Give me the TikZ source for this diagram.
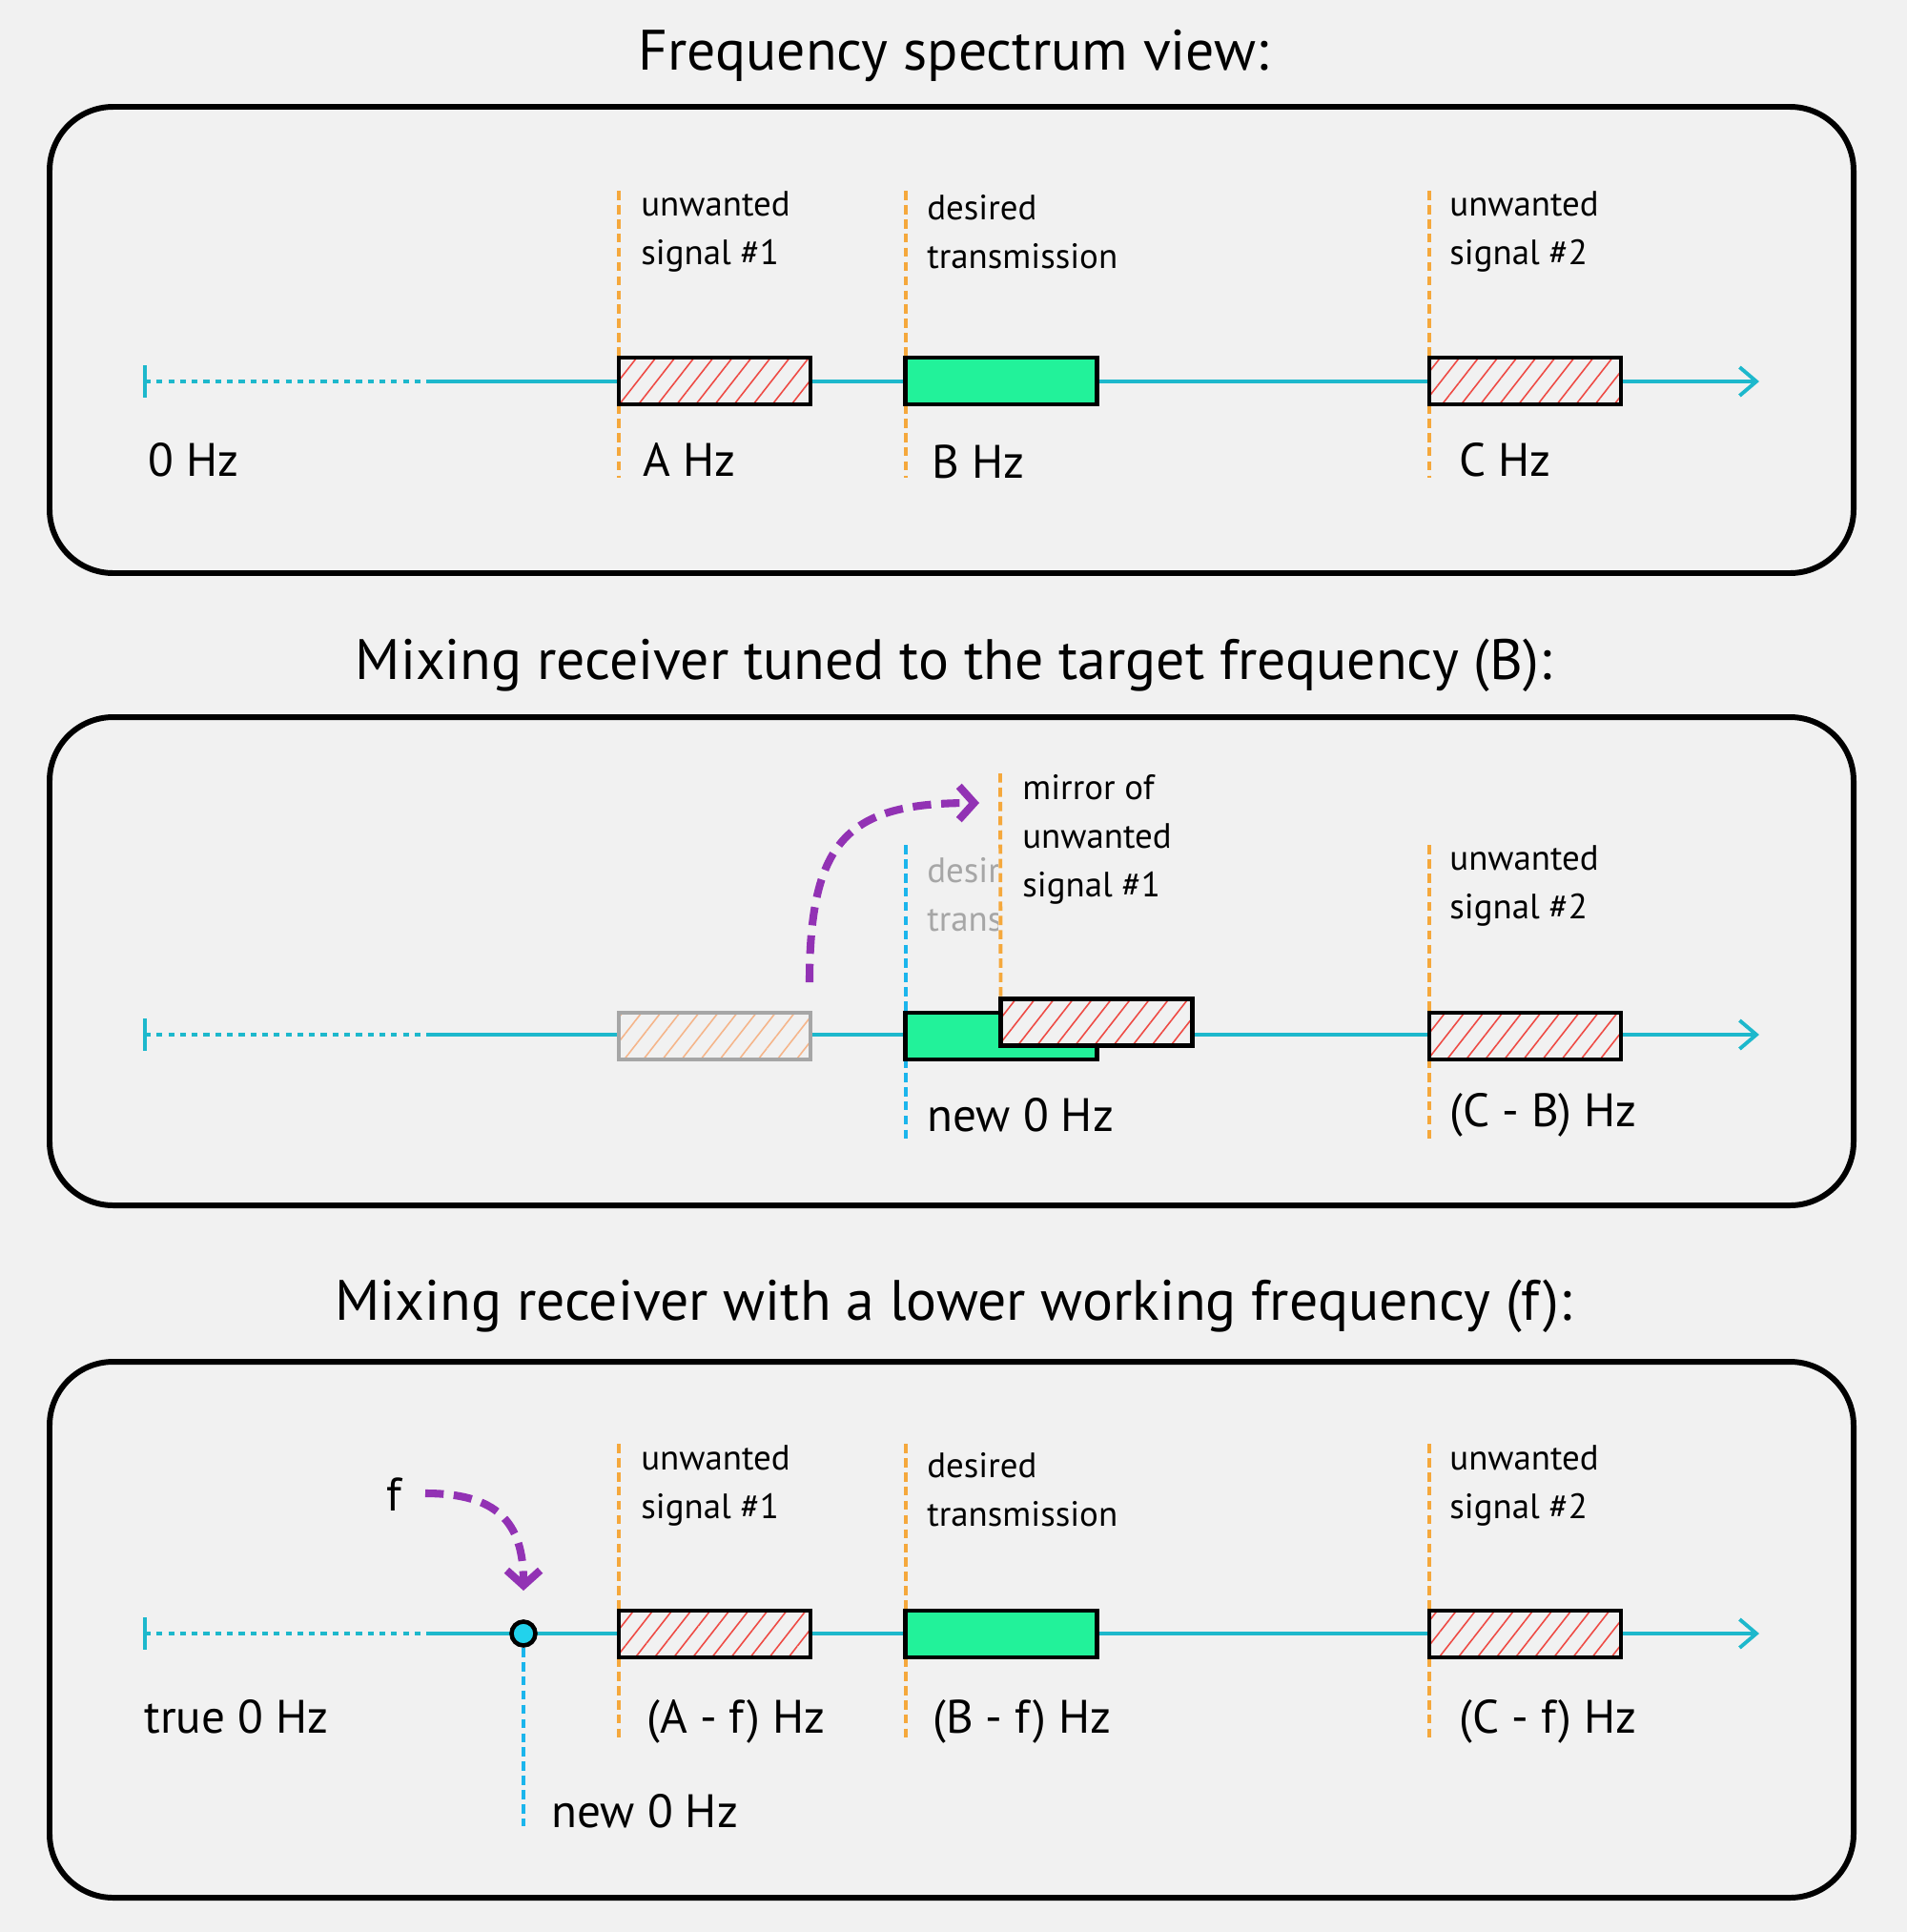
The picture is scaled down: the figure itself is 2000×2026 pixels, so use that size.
\documentclass[tikz,border=0pt]{standalone}
\usepackage{fontspec}
\setmainfont{PT Sans}
\usetikzlibrary{arrows.meta,patterns.meta}
\definecolor{bg}{HTML}{F1F1F1}
\definecolor{axis}{HTML}{1DB8CC}
\definecolor{grn}{HTML}{22F29A}
\definecolor{org}{HTML}{F5A83C}
\definecolor{hred}{HTML}{EE4A44}
\definecolor{purp}{HTML}{9232B4}
\definecolor{nblue}{HTML}{1BB5EC}
\definecolor{fadeorg}{HTML}{F5B58A}
\definecolor{dotfill}{HTML}{22D2EC}
\begin{document}
\begin{tikzpicture}[x=0.02cm,y=-0.02cm,
 frame/.style={draw=black,line width=3.4pt,rounded corners=38pt},
 axisline/.style={draw=axis,line width=2.2pt},
 axisarrow/.style={draw=axis,line width=2.2pt,-{Straight Barb[length=10pt,width=17pt]}},
 dotaxis/.style={draw=axis,line width=2.2pt,dash pattern=on 3.5pt off 3.5pt},
 guide/.style={draw=org,line width=2.2pt,dash pattern=on 5.5pt off 3pt},
 zeroguide/.style={draw=nblue,line width=2.2pt,dash pattern=on 5.5pt off 3pt},
 sigbox/.style={draw=black,line width=2.8pt,minimum width=4.02cm,minimum height=0.98cm,inner sep=0pt,outer sep=0pt},
 unwantedbox/.style={sigbox,preaction={fill=bg},pattern={Lines[angle=52,distance=9pt,line width=0.9pt]},pattern color=hred},
 fadedbox/.style={sigbox,draw=black!35,preaction={fill=bg},pattern={Lines[angle=52,distance=9pt,line width=0.9pt]},pattern color=fadeorg},
 desiredbox/.style={sigbox,fill=grn},
 title/.style={font=\fontsize{34}{40}\selectfont,inner sep=0pt},
 lbl/.style={font=\fontsize{21}{29}\selectfont,align=left,anchor=west,inner sep=0pt},
 hz/.style={font=\fontsize{28}{34}\selectfont,anchor=west,inner sep=0pt},
 mixarrow/.style={draw=purp,line width=4.6pt,dash pattern=on 11pt off 6pt,-{Straight Barb[length=9pt,width=20pt]}}
]
\fill[bg] (0,0) rectangle (2000,2026);
\useasboundingbox (0,0) rectangle (2000,2026);

% ---------------- titles
\node[title] (t1) at (1000,58) {Frequency spectrum view:};
\node[title] (t2) at (1000,698) {Mixing receiver tuned to the target frequency (B):};
\node[title] (t3) at (1000,1370) {Mixing receiver with a lower working frequency (f):};

% ---------------- frames
\draw[frame] (52,112) rectangle (1944,601);
\draw[frame] (52,752) rectangle (1944,1264);
\draw[frame] (52,1428) rectangle (1944,1990);

% ================= panel 1
\coordinate (a1s) at (152,400);
\coordinate (a1m) at (452,400);
\coordinate (a1e) at (1845,400);
\draw[axisline] (152,383) -- (152,417);
\draw[dotaxis] (a1s) -- (a1m);
\draw[axisarrow] (a1m) -- (a1e);
\draw[guide] (649,200) -- (649,501);
\draw[guide] (950,200) -- (950,501);
\draw[guide] (1499,200) -- (1499,501);
\node[unwantedbox] (p1a) at (749.5,399.5) {};
\node[desiredbox] (p1b) at (1050,399.5) {};
\node[unwantedbox] (p1c) at (1599.5,399.5) {};
\node[lbl] (p1la) at (672,243) {unwanted\\signal \#1};
\node[lbl] (p1lb) at (972,243) {desired\\transmission};
\node[lbl] (p1lc) at (1520,243) {unwanted\\signal \#2};
\node[hz] (p1h0) at (155,482) {0 Hz};
\node[hz] (p1ha) at (674,482) {A Hz};
\node[hz] (p1hb) at (977,484) {B Hz};
\node[hz] (p1hc) at (1530,482) {C Hz};

% ================= panel 2
\coordinate (a2s) at (152,1085);
\coordinate (a2m) at (452,1085);
\coordinate (a2e) at (1845,1085);
\draw[axisline] (152,1068) -- (152,1102);
\draw[dotaxis] (a2s) -- (a2m);
\draw[axisarrow] (a2m) -- (a2e);
\draw[zeroguide] (950,886) -- (950,1195);
\draw[guide] (1499,886) -- (1499,1195);
\begin{scope}
\clip (940,860) rectangle (1046,1000);
\node[lbl,text=black!35] (p2fade) at (972,938) {desired\\transmission};
\end{scope}
\node[fadedbox] (p2a) at (749.5,1086.5) {};
\node[desiredbox] (p2b) at (1050,1086.5) {};
\node[unwantedbox] (p2m) at (1150,1072) {};
\draw[guide] (1049,811) -- (p2m.north west);
\node[unwantedbox] (p2c) at (1599.5,1086.5) {};
\node[lbl] (p2lm) at (1072,880) {mirror of\\unwanted\\signal \#1};
\node[lbl] (p2lc) at (1520,929) {unwanted\\signal \#2};
\node[hz] (p2h0) at (972,1169) {new 0 Hz};
\node[hz] (p2hc) at (1520,1169) {(C - B) Hz};
\coordinate (m2s) at (849,1030);
\coordinate (m2e) at (1027,842);
\draw[mixarrow] (m2s) .. controls (849,880) and (890,842) .. (m2e);

% ================= panel 3
\coordinate (a3s) at (152,1713);
\coordinate (a3m) at (452,1713);
\coordinate (a3e) at (1845,1713);
\draw[axisline] (152,1696) -- (152,1730);
\draw[dotaxis] (a3s) -- (a3m);
\draw[axisarrow] (a3m) -- (a3e);
\draw[guide] (649,1514) -- (649,1824);
\draw[guide] (950,1514) -- (950,1824);
\draw[guide] (1499,1514) -- (1499,1824);
\coordinate (nzb) at (549,1915);
\draw[zeroguide] (549,1713) -- (nzb);
\node[circle,draw=black,line width=2.6pt,fill=dotfill,minimum size=0.5cm,inner sep=0pt] (nz) at (549,1713) {};
\node[unwantedbox] (p3a) at (749.5,1713.5) {};
\node[desiredbox] (p3b) at (1050,1713.5) {};
\node[unwantedbox] (p3c) at (1599.5,1713.5) {};
\node[lbl] (p3la) at (672,1558) {unwanted\\signal \#1};
\node[lbl] (p3lb) at (972,1562) {desired\\transmission};
\node[lbl] (p3lc) at (1520,1558) {unwanted\\signal \#2};
\node[hz] (p3f) at (405,1567) {f};
\node[hz] (p3h0) at (151,1800) {true 0 Hz};
\node[hz] (p3hn) at (578,1899) {new 0 Hz};
\node[hz] (p3ha) at (678,1805) {(A - f) Hz};
\node[hz] (p3hb) at (978,1805) {(B - f) Hz};
\node[hz] (p3hc) at (1530,1805) {(C - f) Hz};
\coordinate (m3s) at (446,1566);
\coordinate (m3e) at (549,1668);
\draw[mixarrow] (m3s) .. controls (520,1566) and (549,1595) .. (m3e);
\end{tikzpicture}
\end{document}
